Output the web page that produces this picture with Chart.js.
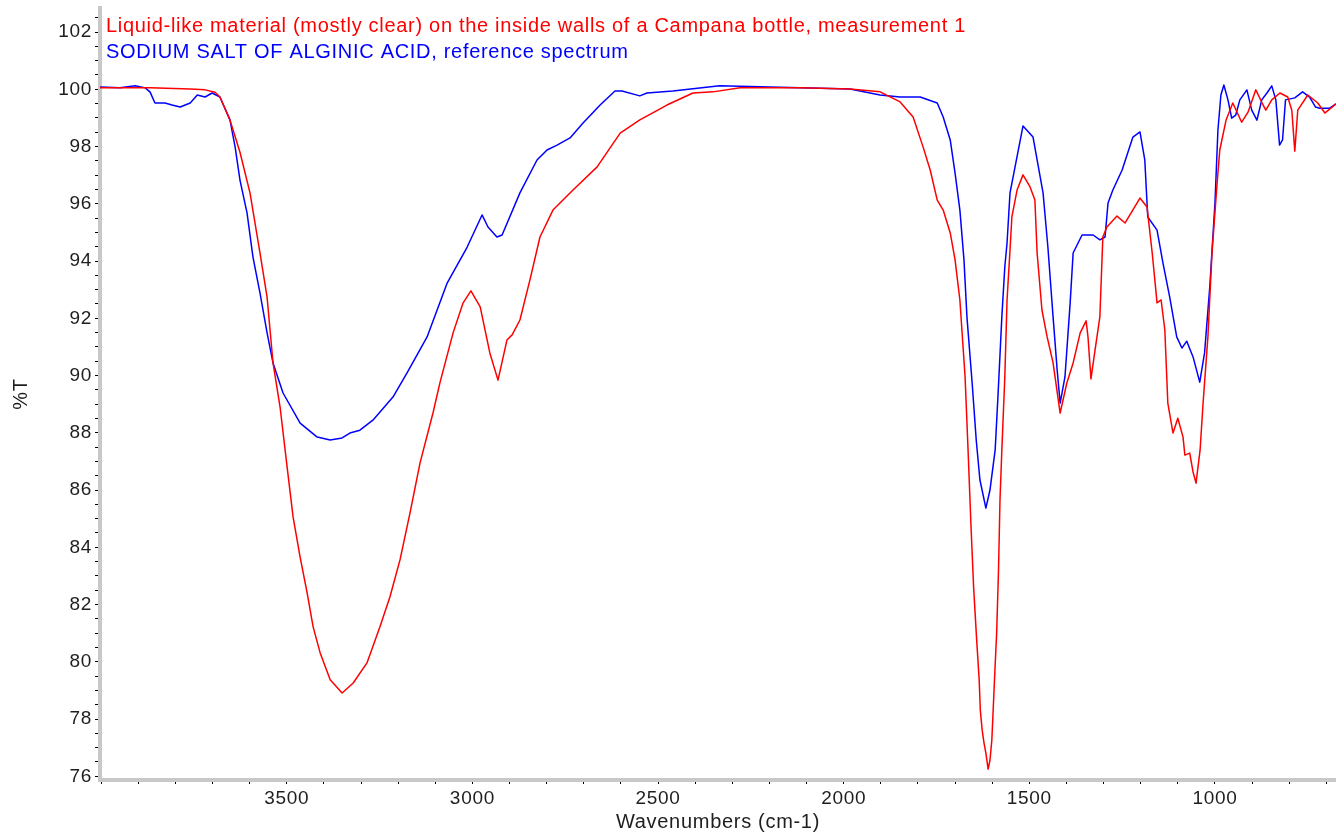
<!DOCTYPE html>
<html>
<head>
<meta charset="utf-8">
<title>FTIR spectrum</title>
<script src="https://cdn.jsdelivr.net/npm/chart.js@4/dist/chart.umd.min.js"></script>
<style>
  html, body { margin: 0; padding: 0; background: #ffffff; }
  canvas { display: block; }
</style>
</head>
<body>
<canvas id="spectrum" width="1336" height="836"></canvas>
<script>
// Sample: liquid-like residue from the bottle wall (wavenumber cm-1 / %T)
const sampleWavenumbers = [
  4003, 3868, 3760, 3720, 3693, 3680, 3653, 3626, 3599, 3572,
  3553, 3537, 3518, 3499, 3483, 3464, 3445, 3429, 3410, 3383,
  3351, 3321, 3284, 3249, 3222, 3195, 3168, 3141, 3106, 3087,
  3052, 3025, 3004, 2979, 2953, 2931, 2907, 2893, 2872, 2845,
  2818, 2783, 2729, 2664, 2602, 2549, 2476, 2406, 2352, 2279,
  2118, 1983, 1902, 1848, 1813, 1786, 1767, 1748, 1732, 1713,
  1700, 1687, 1673, 1665, 1657, 1650, 1642, 1635,
  1632, 1627, 1622, 1617, 1611, 1606, 1601, 1597, 1593, 1588,
  1583, 1579, 1574, 1566, 1560, 1552, 1547, 1533, 1517,
  1498, 1485, 1479, 1466, 1452, 1436, 1417, 1399, 1382, 1363,
  1347, 1342, 1334, 1323, 1310, 1302, 1291, 1264, 1242, 1202,
  1183, 1169, 1156, 1145, 1135, 1127, 1113, 1100, 1086, 1081,
  1068, 1059, 1051, 1040, 1032, 1019, 1008, 995, 987, 970,
  952, 928, 911, 890, 873, 863, 847, 825, 804, 793,
  785, 777, 750, 723, 704, 674
];
const sampleTransmittance = [
  100.05, 100.05, 100.01, 99.98, 99.9, 99.73, 98.93, 97.8, 96.38, 94.28,
  92.74, 90.44, 88.9, 86.8, 85.06, 83.66, 82.4, 81.22, 80.31, 79.37,
  78.91, 79.26, 79.96, 81.22, 82.27, 83.56, 85.2, 86.95, 88.7, 89.77,
  91.49, 92.54, 92.96, 92.4, 90.79, 89.84, 91.24, 91.42, 91.94, 93.34,
  94.84, 95.78, 96.48, 97.29, 98.47, 98.93, 99.45, 99.87, 99.91, 100.05,
  100.05, 100.01, 99.91, 99.56, 99.03, 97.98, 97.18, 96.13, 95.78, 94.98,
  94.04, 92.64, 89.95, 87.4, 84.71, 82.6, 80.8, 79.36,
  78.31, 77.61, 77.16, 76.81, 76.25, 76.56, 77.26, 78.42, 79.61, 81.0,
  83.2, 85.65, 87.4, 89.95, 92.64, 94.39, 95.54, 96.48, 97.01,
  96.59, 96.13, 94.28, 92.29, 91.35, 90.44, 88.69, 89.74, 90.44, 91.49,
  91.91, 91.35, 89.88, 90.89, 92.05, 94.84, 95.19, 95.57, 95.33, 96.2,
  95.89, 94.28, 92.54, 92.64, 91.59, 89.04, 87.99, 88.51, 87.85, 87.22,
  87.29, 86.63, 86.24, 87.4, 89.04, 91.35, 94.28, 96.59, 97.88, 98.93,
  99.52, 98.85, 99.2, 99.98, 99.52, 99.27, 99.63, 99.87, 99.73, 99.27,
  97.84, 99.27, 99.8, 99.52, 99.17, 99.49
];

// Reference: sodium alginate library spectrum
const referenceWavenumbers = [
  4003, 3949, 3908, 3881, 3868, 3855, 3828, 3809, 3787, 3760,
  3741, 3720, 3701, 3680, 3653, 3639, 3626, 3607, 3591, 3572,
  3553, 3537, 3510, 3464, 3418, 3383, 3351, 3330, 3303, 3268,
  3214, 3176, 3122, 3068, 3014, 2974, 2958, 2934, 2920, 2872,
  2826, 2799, 2772, 2737, 2702, 2656, 2616, 2597, 2549, 2530,
  2460, 2334, 2118, 1983, 1902, 1848, 1794, 1748, 1732, 1713,
  1700, 1687, 1676, 1668, 1654, 1643, 1633, 1617, 1606, 1592,
  1584, 1574, 1566, 1560, 1552, 1517, 1490, 1463, 1450, 1436,
  1425, 1417, 1404, 1390, 1382, 1358, 1328, 1310, 1296, 1288,
  1275, 1250, 1221, 1202, 1189, 1181, 1156, 1140, 1122, 1103,
  1089, 1076, 1059, 1041, 1028, 1014, 1000, 992, 984, 976,
  965, 955, 944, 933, 914, 901, 887, 874, 860, 847,
  836, 826, 818, 810, 785, 764, 745, 729, 718, 691,
  674
];
const referenceTransmittance = [
  100.08, 100.05, 100.12, 100.05, 99.9, 99.52, 99.52, 99.45, 99.38, 99.52,
  99.8, 99.73, 99.87, 99.73, 98.93, 97.98, 96.83, 95.68, 94.14, 92.88,
  91.49, 90.44, 89.39, 88.34, 87.85, 87.75, 87.82, 87.99, 88.09, 88.44,
  89.25, 90.09, 91.35, 93.23, 94.49, 95.61, 95.19, 94.84, 94.91, 96.38,
  97.53, 97.88, 98.05, 98.3, 98.82, 99.45, 99.94, 99.94, 99.77, 99.87,
  99.94, 100.12, 100.05, 100.01, 99.8, 99.73, 99.73, 99.52, 99.03, 98.23,
  97.07, 95.78, 94.04, 92.05, 89.74, 87.75, 86.35, 85.37, 86.0, 87.4,
  89.39, 92.05, 93.8, 94.63, 96.38, 98.72, 98.33, 96.38, 94.49, 92.05,
  90.19, 89.04, 89.95, 92.54, 94.28, 94.91, 94.91, 94.74, 94.84, 96.03,
  96.48, 97.18, 98.33, 98.51, 97.53, 95.54, 95.08, 93.93, 92.75, 91.35,
  90.96, 91.2, 90.65, 89.77, 90.79, 93.09, 96.03, 98.58, 99.8, 100.15,
  99.63, 98.99, 99.1, 99.63, 99.98, 99.27, 98.92, 99.63, 99.87, 100.12,
  99.63, 98.05, 98.23, 99.63, 99.7, 99.91, 99.73, 99.38, 99.34, 99.34,
  99.49
];

const seriesNames = [
  'Liquid-like material (mostly clear) on the inside walls of a Campana bottle, measurement 1',
  'SODIUM SALT OF ALGINIC ACID, reference spectrum'
];

// Labelled ticks; the axes also carry unlabelled minor ticks in between
const xTickLabels = [1000, 1500, 2000, 2500, 3000, 3500];
const yTickLabels = [76, 78, 80, 82, 84, 86, 88, 90, 92, 94, 96, 98, 100, 102];

const toPoints = (xs, ys) => xs.map((x, i) => ({ x: x, y: ys[i] }));

const FONT = '"Liberation Sans", Arial, Helvetica, sans-serif';
const TEXT = '#1e1e1e';
const AXIS_GRAY = '#c8c8c8';
const SPACING = '0.7px';

// Slightly widened lettering for every text drawn on the canvas
const letterSpacingPlugin = {
  id: 'letterSpacing',
  afterInit(chart) { chart.ctx.letterSpacing = SPACING; },
  beforeUpdate(chart) { chart.ctx.letterSpacing = SPACING; },
  beforeDraw(chart) { chart.ctx.letterSpacing = SPACING; }
};

// Series names written in their line colour at the top left of the plot
const seriesCaptionPlugin = {
  id: 'seriesCaptions',
  afterDraw(chart) {
    const { ctx, chartArea } = chart;
    ctx.save();
    ctx.font = '20px ' + FONT;
    ctx.letterSpacing = SPACING;
    ctx.textAlign = 'left';
    ctx.textBaseline = 'alphabetic';
    chart.data.datasets.forEach((ds, i) => {
      ctx.fillStyle = ds.borderColor;
      ctx.fillText(ds.label, chartArea.left + 6, chartArea.top + 24 + i * 25.6);
    });
    ctx.restore();
  }
};

const lineStyle = {
  borderWidth: 1.5,
  borderJoinStyle: 'round',
  pointRadius: 0,
  tension: 0,
  fill: false
};

new Chart(document.getElementById('spectrum'), {
  type: 'line',
  data: {
    datasets: [
      Object.assign({
        label: seriesNames[0],
        data: toPoints(sampleWavenumbers, sampleTransmittance),
        borderColor: '#ff0000'
      }, lineStyle),
      Object.assign({
        label: seriesNames[1],
        data: toPoints(referenceWavenumbers, referenceTransmittance),
        borderColor: '#0000ff'
      }, lineStyle)
    ]
  },
  options: {
    responsive: false,
    animation: false,
    events: [],
    layout: { padding: { top: 8, right: 0, bottom: 0, left: 0 } },
    plugins: {
      legend: { display: false },
      tooltip: { enabled: false },
      title: { display: false }
    },
    scales: {
      x: {
        type: 'linear',
        position: 'bottom',
        reverse: true,
        min: 674,
        max: 4003,
        afterFit(scale) {
          scale.height = 56;
          scale.paddingLeft = 0;
          scale.paddingRight = 0;
        },
        ticks: {
          stepSize: 100,
          autoSkip: false,
          includeBounds: false,
          maxRotation: 0,
          padding: 3,
          color: TEXT,
          font: { family: FONT, size: 19 },
          callback: (v) => xTickLabels.includes(v) ? String(v) : ''
        },
        grid: {
          drawOnChartArea: false,
          drawTicks: true,
          tickLength: 4,
          tickColor: '#000000',
          tickWidth: 1
        },
        border: { display: true, color: AXIS_GRAY, width: 4 },
        title: {
          display: true,
          text: 'Wavenumbers (cm-1)',
          color: TEXT,
          font: { family: FONT, size: 20 },
          padding: { top: 0, bottom: 2 }
        }
      },
      y: {
        type: 'linear',
        position: 'left',
        min: 75.87,
        max: 102.84,
        afterFit(scale) {
          scale.width = 100;
          scale.paddingTop = 0;
          scale.paddingBottom = 0;
        },
        ticks: {
          stepSize: 0.5,
          autoSkip: false,
          includeBounds: false,
          padding: 3,
          color: TEXT,
          font: { family: FONT, size: 19 },
          callback: (v) => yTickLabels.includes(v) ? String(v) : ''
        },
        grid: {
          drawOnChartArea: false,
          drawTicks: true,
          tickLength: 5,
          tickColor: '#000000',
          tickWidth: 1
        },
        border: { display: true, color: AXIS_GRAY, width: 4 },
        title: {
          display: true,
          text: '%T',
          color: TEXT,
          font: { family: FONT, size: 20 },
          padding: { top: 9, bottom: 0 }
        }
      }
    }
  },
  plugins: [letterSpacingPlugin, seriesCaptionPlugin]
});
</script>
</body>
</html>
